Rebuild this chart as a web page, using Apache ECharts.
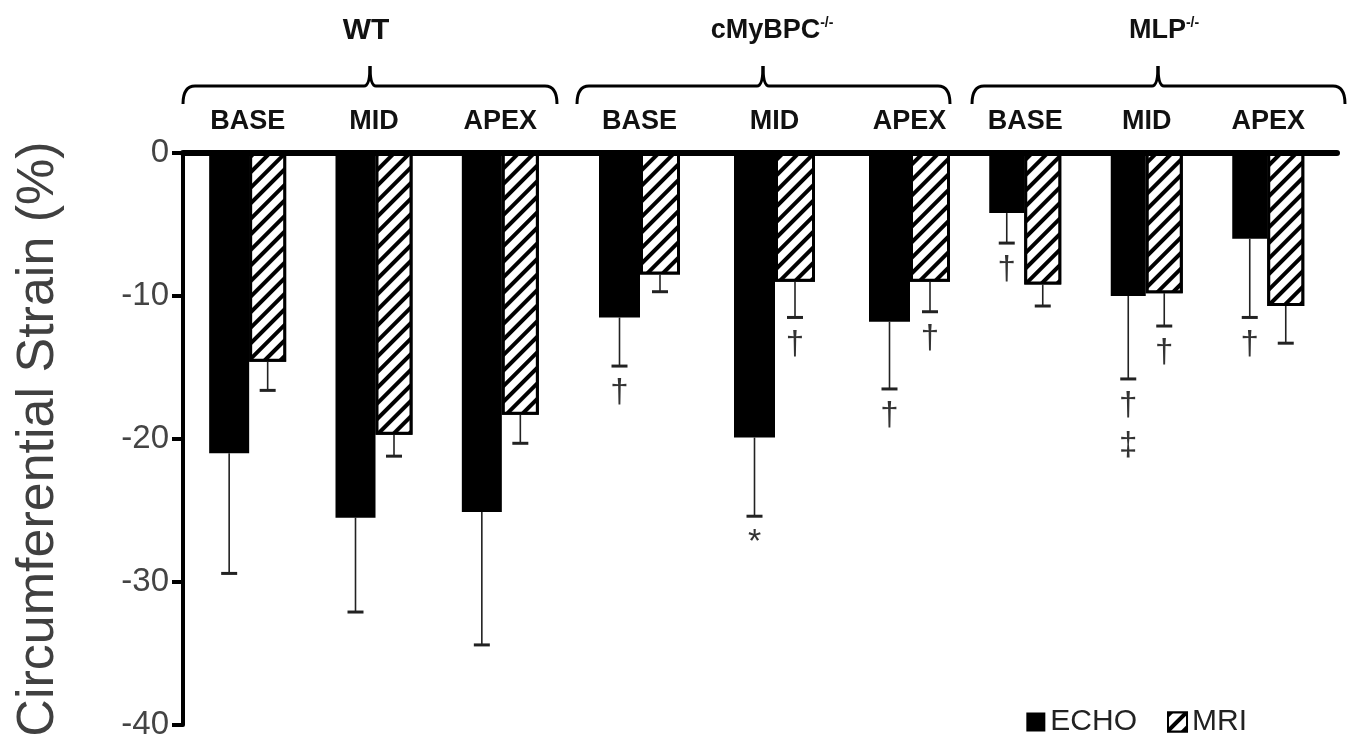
<!DOCTYPE html>
<html><head><meta charset="utf-8">
<script src="https://cdn.jsdelivr.net/npm/echarts@6/dist/echarts.min.js"></script>
<style>html,body{margin:0;padding:0;background:#fff}#c{width:1352px;height:745px}</style>
</head><body><div id="c"></div>
<script>
// ---------------- DATA ----------------
const groupNames = ['WT', 'cMyBPC', 'MLP'];
const regions = ['BASE', 'MID', 'APEX'];
const seriesNames = ['ECHO', 'MRI'];

const echoWT = [-21.0, -25.5, -25.1];
const echoErrWT = [8.4, 6.6, 9.3];
const mriWT = [-14.6, -19.7, -18.3];
const mriErrWT = [2.0, 1.5, 2.0];

const echoCMy = [-11.5, -19.9, -11.8];
const echoErrCMy = [3.4, 5.5, 4.7];
const mriCMy = [-8.5, -9.0, -9.0];
const mriErrCMy = [1.2, 2.5, 2.1];

const echoMLP = [-4.2, -10.0, -6.0];
const echoErrMLP = [2.1, 5.8, 5.5];
const mriMLP = [-9.2, -9.8, -10.7];
const mriErrMLP = [1.5, 2.3, 2.6];

const echoMarksWT = ['', '', ''];
const mriMarksWT = ['', '', ''];
const echoMarksCMy = ['\u2020', '*', '\u2020'];
const mriMarksCMy = ['', '\u2020', '\u2020'];
const echoMarksMLP = ['\u2020', '\u2020\n\u2021', '\u2020'];
const mriMarksMLP = ['', '\u2020', ''];

const yMin = -40, yMax = 0, yStep = 10;

// ---------------- LAYOUT / STYLE ----------------
const FONT = "'Liberation Sans', Arial, sans-serif";
const PLOT_TOP = 153, PLOT_BOTTOM = 20;
const groupLayout = [
  { left: 184.5, width: 379, echoW: 40, mriW: 37 },
  { left: 572, width: 405, echoW: 41, mriW: 40 },
  { left: 964.5, width: 364.5, echoW: 35, mriW: 37 }
];
const braceLayout = [
  { x1: 183, x2: 557, tip: 370, labelX: 366 },
  { x1: 577, x2: 950, tip: 763, labelX: 772 },
  { x1: 972, x2: 1345, tip: 1158, labelX: 1164 }
];

const groups = [
  { echo: echoWT, echoErr: echoErrWT, mri: mriWT, mriErr: mriErrWT, echoMarks: echoMarksWT, mriMarks: mriMarksWT },
  { echo: echoCMy, echoErr: echoErrCMy, mri: mriCMy, mriErr: mriErrCMy, echoMarks: echoMarksCMy, mriMarks: mriMarksCMy },
  { echo: echoMLP, echoErr: echoErrMLP, mri: mriMLP, mriErr: mriErrMLP, echoMarks: echoMarksMLP, mriMarks: mriMarksMLP }
];

const hatch = {
  symbol: 'rect', symbolSize: 1,
  dashArrayX: [1, 0], dashArrayY: [4, 7],
  rotation: -Math.PI / 4,
  color: '#000', backgroundColor: '#fff'
};

function errRender(values, errs, marks, offset) {
  return function (params, api) {
    const i = api.value(0);
    const v = values[i], e = errs[i];
    const p0 = api.coord([i, v]);
    const p1 = api.coord([i, v - e]);
    const x = p0[0] + offset;
    const children = [
      { type: 'line', shape: { x1: x, y1: p0[1], x2: x, y2: p1[1] }, style: { stroke: '#222', lineWidth: 1.6 } },
      { type: 'line', shape: { x1: x - 8, y1: p1[1], x2: x + 8, y2: p1[1] }, style: { stroke: '#222', lineWidth: 3 } }
    ];
    const m = marks[i];
    if (m) {
      const star = m === '*';
      children.push({
        type: 'text',
        style: {
          x: x, y: p1[1] + (star ? 6 : 7), text: m,
          font: (star ? '34px ' : '33px ') + FONT,
          lineHeight: 40,
          align: 'center', verticalAlign: 'top', fill: '#333'
        }
      });
    }
    return { type: 'group', children: children };
  };
}

const grid = [{ left: 183, right: 15, top: PLOT_TOP, bottom: PLOT_BOTTOM }];
const xAxis = [{
  gridIndex: 0, type: 'value', min: 0, max: 1, position: 'top',
  axisLine: { show: true, onZero: false, lineStyle: { color: '#000', width: 6 } },
  axisTick: { show: false }, axisLabel: { show: false }, splitLine: { show: false }
}];
const yAxis = [{
  gridIndex: 0, type: 'value', min: yMin, max: yMax, interval: yStep,
  name: 'Circumferential Strain (%)', nameLocation: 'middle', nameGap: 118,
  nameTextStyle: { fontSize: 52, color: '#404040', fontFamily: FONT },
  axisLine: { show: true, lineStyle: { color: '#000', width: 4 } },
  axisTick: { show: true, length: 11, lineStyle: { color: '#000', width: 4 } },
  axisLabel: { fontSize: 33, color: '#444', fontFamily: FONT, margin: 14 },
  splitLine: { show: false }
}];
const series = [];

groups.forEach(function (g, k) {
  const L = groupLayout[k];
  const gi = k + 1;
  grid.push({ left: L.left, width: L.width, top: PLOT_TOP, bottom: PLOT_BOTTOM });
  xAxis.push({
    gridIndex: gi, type: 'category', data: regions, position: 'top',
    axisLine: { show: false, onZero: false }, axisTick: { show: false },
    axisLabel: { fontSize: 27, fontWeight: 'bold', color: '#111', fontFamily: FONT, margin: 18 }
  });
  yAxis.push({ gridIndex: gi, type: 'value', min: yMin, max: yMax, show: false });
  series.push({
    name: seriesNames[0], type: 'bar', xAxisIndex: gi, yAxisIndex: gi,
    data: g.echo, barWidth: L.echoW, barGap: '0%',
    itemStyle: { color: '#000' }, silent: true
  });
  series.push({
    name: seriesNames[1], type: 'bar', xAxisIndex: gi, yAxisIndex: gi,
    data: g.mri, barWidth: L.mriW, barGap: '0%',
    itemStyle: { color: '#fff', borderColor: '#000', borderWidth: 3, decal: hatch }, silent: true
  });
  series.push({
    type: 'custom', xAxisIndex: gi, yAxisIndex: gi, z: 5, silent: true,
    data: g.echo.map(function (v, i) { return [i, v]; }),
    renderItem: errRender(g.echo, g.echoErr, g.echoMarks, -L.mriW / 2)
  });
  series.push({
    type: 'custom', xAxisIndex: gi, yAxisIndex: gi, z: 5, silent: true,
    data: g.mri.map(function (v, i) { return [i, v]; }),
    renderItem: errRender(g.mri, g.mriErr, g.mriMarks, L.echoW / 2)
  });
});

// braces & group titles
const graphic = [];
const yLine = 86, yEnd = 104, yTip = 66;
braceLayout.forEach(function (b, k) {
  const st = { stroke: '#000', lineWidth: 3, fill: null };
  graphic.push({ type: 'bezierCurve', shape: { x1: b.x1, y1: yEnd, cpx1: b.x1, cpy1: yLine, x2: b.x1 + 12, y2: yLine }, style: st });
  graphic.push({ type: 'line', shape: { x1: b.x1 + 12, y1: yLine, x2: b.tip - 6, y2: yLine }, style: st });
  graphic.push({ type: 'bezierCurve', shape: { x1: b.tip - 6, y1: yLine, cpx1: b.tip, cpy1: yLine, x2: b.tip, y2: yTip }, style: st });
  graphic.push({ type: 'bezierCurve', shape: { x1: b.tip, y1: yTip, cpx1: b.tip, cpy1: yLine, x2: b.tip + 6, y2: yLine }, style: st });
  graphic.push({ type: 'line', shape: { x1: b.tip + 6, y1: yLine, x2: b.x2 - 12, y2: yLine }, style: st });
  graphic.push({ type: 'bezierCurve', shape: { x1: b.x2 - 12, y1: yLine, cpx1: b.x2, cpy1: yLine, x2: b.x2, y2: yEnd }, style: st });
  const txt = k === 0 ? '{m|' + groupNames[k] + '}' : '{m|' + groupNames[k] + '}{s|-/-}';
  graphic.push({
    type: 'text', x: b.labelX, y: 31,
    style: {
      text: txt, align: 'center', verticalAlign: 'middle',
      rich: {
        m: { fontSize: k === 0 ? 30 : 27, fontWeight: 'bold', fontFamily: FONT, fill: '#111', lineHeight: 30 },
        s: { fontSize: 14, fontWeight: 'bold', fontFamily: FONT, fill: '#111', verticalAlign: 'top', lineHeight: 30 }
      }
    }
  });
});

const option = {
  animation: false,
  backgroundColor: '#fff',
  grid: grid, xAxis: xAxis, yAxis: yAxis, series: series,
  legend: {
    data: seriesNames, right: 100, top: 702,
    icon: 'rect', itemWidth: 19, itemHeight: 19, itemGap: 30,
    textStyle: { fontSize: 30, color: '#222', fontFamily: FONT }
  },
  graphic: graphic
};

const chart = echarts.init(document.getElementById('c'), null, { renderer: 'canvas' });
chart.setOption(option);
</script>
</body></html>
